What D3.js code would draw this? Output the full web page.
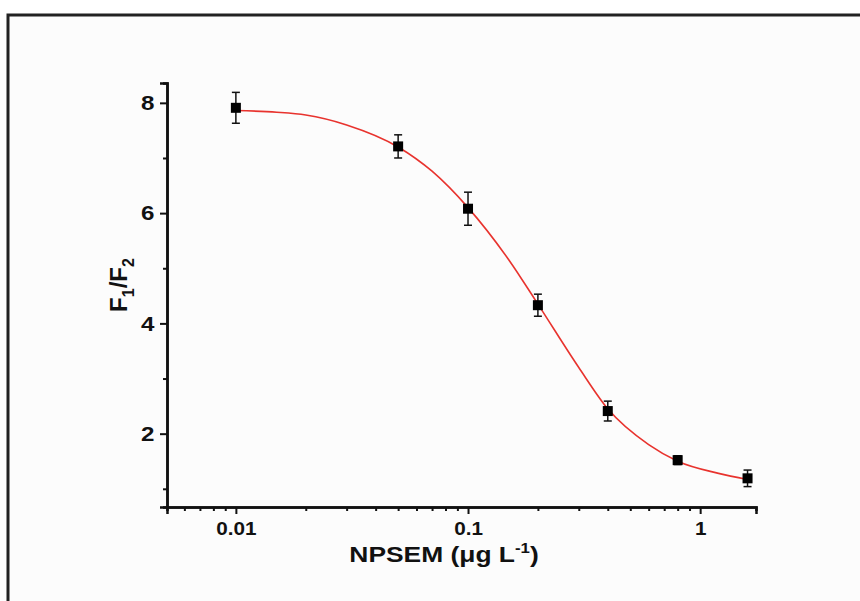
<!DOCTYPE html>
<html>
<head>
<meta charset="utf-8">
<script src="https://cdn.jsdelivr.net/npm/d3@7"></script>
<style>
  body { margin: 0; background: #fff; }
  svg { display: block; }
  text { font-family: "Liberation Sans", Arial, sans-serif; font-weight: bold; fill: #111; }
</style>
</head>
<body>
<script>
// measured points
var conc = [0.01, 0.05, 0.1, 0.2, 0.4, 0.8, 1.6];
var ratio = [7.91, 7.21, 6.08, 4.33, 2.41, 1.52, 1.19];
var errs = [0.28, 0.21, 0.3, 0.2, 0.18, 0.08, 0.15];

// fitted curve
var fitX = [0.01, 0.015, 0.02, 0.03, 0.05, 0.07, 0.1, 0.15, 0.2, 0.3, 0.4, 0.6, 0.8, 1.2, 1.6];
var fitY = [7.86, 7.83, 7.78, 7.6, 7.2, 6.76, 6.1, 5.15, 4.35, 3.2, 2.45, 1.8, 1.5, 1.28, 1.17];

var xTicks = [0.01, 0.1, 1];
var yTicks = [2, 4, 6, 8];

var W = 860, H = 601;
var margin = {top: 83, right: 104, bottom: 94, left: 167},
    width = W - margin.left - margin.right,
    height = H - margin.top - margin.bottom;

var root = d3.select("body").append("svg")
    .attr("width", W)
    .attr("height", H);

// outer frame (only top and left edges are in view)
root.append("rect").attr("x", 8).attr("y", 15).attr("width", W).attr("height", H)
    .attr("fill", "#fcfcfc").attr("stroke", "#222").attr("stroke-width", 3);

var svg = root.append("g")
    .attr("transform", "translate(" + margin.left + "," + margin.top + ")");

var xscale = d3.scaleLog().domain([0.00505, 1.74]).range([0, width]);
var yscale = d3.scaleLinear().domain([0.67, 8.36]).range([height, 0]);

// minor ticks
var xMinor = [];
[0.001, 0.01, 0.1, 1].forEach(function(b) {
  for (var k = 2; k <= 9; k++) {
    var v = b * k;
    if (v >= xscale.domain()[0] && v <= xscale.domain()[1]) xMinor.push(v);
  }
});
var yMinor = [1, 3, 5, 7];

var xAxisMinor = d3.axisBottom(xscale).tickValues(xMinor).tickSize(4).tickFormat("");
svg.append("g").attr("class", "x minor")
    .attr("transform", "translate(0," + height + ")")
    .call(xAxisMinor);

var xAxis = d3.axisBottom(xscale).tickValues(xTicks).tickSize(7).tickPadding(8)
    .tickFormat(function(d) { return d >= 1 ? d3.format("d")(d) : String(d); });
svg.append("g").attr("class", "x axis")
    .attr("transform", "translate(0," + height + ")")
    .call(xAxis)
    .attr("font-size", 18);

var yAxisMinor = d3.axisLeft(yscale).tickValues(yMinor).tickSize(4).tickFormat("");
svg.append("g").attr("class", "y minor").call(yAxisMinor);

var yAxis = d3.axisLeft(yscale).tickValues(yTicks).tickSize(7).tickPadding(4)
    .tickFormat(d3.format("d"));
svg.append("g").attr("class", "y axis").call(yAxis)
    .attr("font-size", 21);

svg.selectAll(".domain").attr("stroke", "#111").attr("stroke-width", 2.5);
svg.selectAll(".tick line").attr("stroke", "#111").attr("stroke-width", 2);
// the original labels are set in a wider face
svg.selectAll(".tick text").attr("fill", "#111").attr("transform", "scale(1.15,1)");

// fitted line
var fit = fitX.map(function(x, i) { return {x: x, y: fitY[i]}; });
var valueline = d3.line()
    .curve(d3.curveMonotoneX)
    .x(function(d) { return xscale(d.x); })
    .y(function(d) { return yscale(d.y); });

svg.append("path")
    .datum(fit)
    .attr("fill", "none")
    .attr("stroke", "#e8332e")
    .attr("stroke-width", 1.6)
    .attr("d", valueline);

// error bars
var pts = conc.map(function(c, i) { return {x: c, y: ratio[i], e: errs[i]}; });
var eb = svg.selectAll(".err").data(pts).enter().append("g").attr("class", "err")
    .attr("stroke", "#111").attr("stroke-width", 1.5);
eb.append("line")
    .attr("x1", function(d) { return xscale(d.x); })
    .attr("x2", function(d) { return xscale(d.x); })
    .attr("y1", function(d) { return yscale(d.y + d.e); })
    .attr("y2", function(d) { return yscale(d.y - d.e); });
eb.append("line")
    .attr("x1", function(d) { return xscale(d.x) - 4; })
    .attr("x2", function(d) { return xscale(d.x) + 4; })
    .attr("y1", function(d) { return yscale(d.y + d.e); })
    .attr("y2", function(d) { return yscale(d.y + d.e); });
eb.append("line")
    .attr("x1", function(d) { return xscale(d.x) - 4; })
    .attr("x2", function(d) { return xscale(d.x) + 4; })
    .attr("y1", function(d) { return yscale(d.y - d.e); })
    .attr("y2", function(d) { return yscale(d.y - d.e); });

// square markers
svg.selectAll(".pt").data(pts).enter().append("rect").attr("class", "pt")
    .attr("x", function(d) { return xscale(d.x) - 5; })
    .attr("y", function(d) { return yscale(d.y) - 5; })
    .attr("width", 10).attr("height", 10)
    .attr("fill", "#000");

// axis titles (original lettering is a bit wider than Arial, hence the x-scale)
var xt = svg.append("text")
    .attr("transform", "translate(" + (444 - margin.left) + "," + (height + 55) + ") scale(1.2,1)")
    .attr("text-anchor", "middle")
    .style("font-size", "22px");
xt.append("tspan").text("NPSEM (\u03bcg L");
xt.append("tspan").attr("dy", -9).style("font-size", "14px").text("-1");
xt.append("tspan").attr("dy", 9).text(")");

var yt = svg.append("text")
    .attr("transform", "translate(-40," + (285 - margin.top) + ") rotate(-90)")
    .attr("text-anchor", "middle")
    .style("font-size", "24px");
yt.append("tspan").text("F");
yt.append("tspan").attr("dy", 7).style("font-size", "16px").text("1");
yt.append("tspan").attr("dy", -7).text("/F");
yt.append("tspan").attr("dy", 7).style("font-size", "16px").text("2");
</script>
</body>
</html>
